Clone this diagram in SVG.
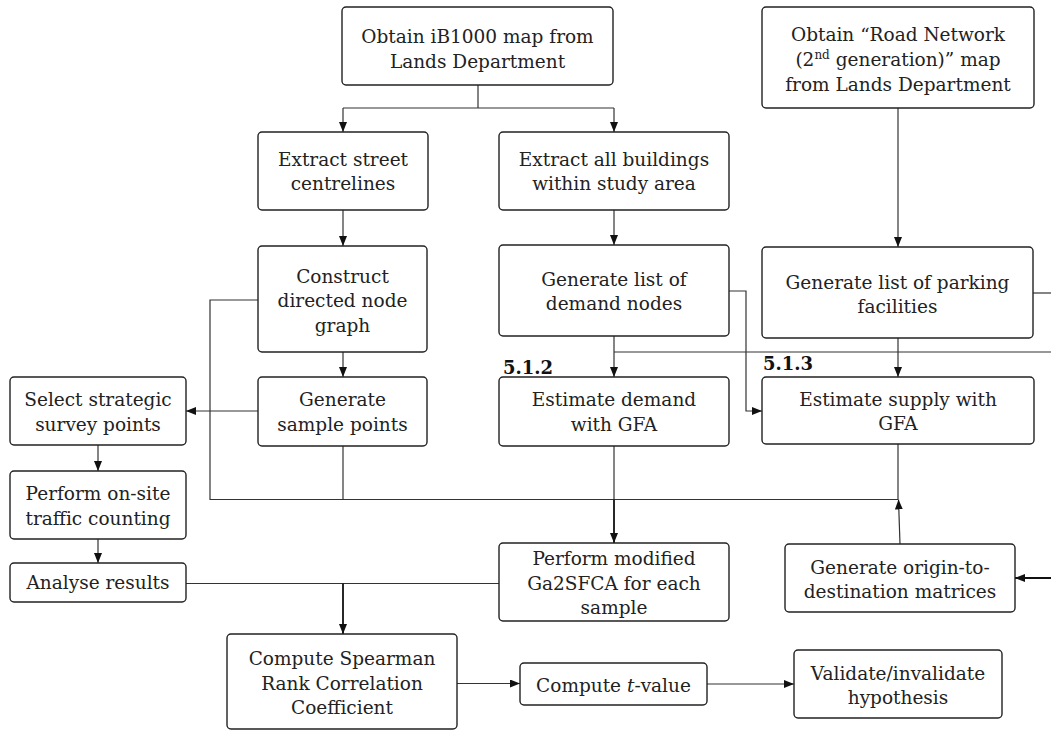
<svg xmlns="http://www.w3.org/2000/svg" width="1051" height="731" viewBox="0 0 1051 731">
<style>
.box{fill:#fff;stroke:#222;stroke-width:1.4}
.t{font-family:"DejaVu Serif",serif;font-size:18.5px;fill:#222;text-anchor:middle}
.c{fill:none;stroke:#333;stroke-width:1.2}
.k{fill:none;stroke:#111;stroke-width:1.8}
.lbl{font-family:"DejaVu Serif",serif;font-weight:bold;font-size:18px;fill:#111}
</style>
<defs>
<marker id="ah" markerUnits="userSpaceOnUse" markerWidth="10" markerHeight="8" refX="10" refY="4" orient="auto">
<path d="M0,0 L10,4 L0,8 z" fill="#111"/>
</marker>
</defs>
<rect width="1051" height="731" fill="#fff"/>
<g id="connectors">
<path class="c" d="M478,85 V108 M343,108 H614"/>
<path class="c" d="M343,108 V132" marker-end="url(#ah)"/>
<path class="c" d="M614,108 V132" marker-end="url(#ah)"/>
<path class="c" d="M343,210 V246" marker-end="url(#ah)"/>
<path class="c" d="M614,210 V245" marker-end="url(#ah)"/>
<path class="c" d="M898,108 V247" marker-end="url(#ah)"/>
<path class="c" d="M343,352 V377" marker-end="url(#ah)"/>
<path class="c" d="M258,411 H186" marker-end="url(#ah)"/>
<path class="c" d="M98,445 V471" marker-end="url(#ah)"/>
<path class="c" d="M98,539 V563" marker-end="url(#ah)"/>
<path class="c" d="M258,300 H210 V499.5 H898"/>
<path class="c" d="M343,446 V499.5"/>
<path class="c" d="M614,336 V377" marker-end="url(#ah)"/>
<path class="c" d="M614,352 H1051"/>
<path class="c" d="M729,291 H746 V411 H762" marker-end="url(#ah)"/>
<path class="c" d="M1033,293 H1051"/>
<path class="c" d="M898,338 V377" marker-end="url(#ah)"/>
<path class="c" d="M614,446 V499.5"/>
<path class="k" d="M614,499.5 V543" marker-end="url(#ah)"/>
<path class="c" d="M898,444 V499.5"/>
<path class="c" d="M900,544 L898.5,499.5" marker-end="url(#ah)"/>
<path class="k" d="M1051,578 H1015" marker-end="url(#ah)"/>
<path class="c" d="M186,583.5 H499"/>
<path class="k" d="M343,583.5 V634" marker-end="url(#ah)"/>
<path class="c" d="M457,683.5 H520" marker-end="url(#ah)"/>
<path class="c" d="M707,684 H794" marker-end="url(#ah)"/>
</g>
<g id="n_ib1000"><rect class="box" x="342" y="7" width="271" height="78" rx="4"/>
<text class="t" x="477.5" y="43">Obtain iB1000 map from</text><text class="t" x="477.5" y="67.5">Lands Department</text></g>
<g id="n_street"><rect class="box" x="258" y="132" width="170" height="78" rx="4"/>
<text class="t" x="343" y="165.5">Extract street</text><text class="t" x="343" y="190">centrelines</text></g>
<g id="n_buildings"><rect class="box" x="499" y="132" width="230" height="78" rx="4"/>
<text class="t" x="614" y="165.5">Extract all buildings</text><text class="t" x="614" y="190">within study area</text></g>
<g id="n_road"><rect class="box" x="762" y="7" width="272" height="101" rx="4"/>
<text class="t" x="898" y="41">Obtain “Road Network</text>
<text class="t" x="898" y="66">(2<tspan font-size="12" dy="-7">nd</tspan><tspan dy="7"> generation)” map</tspan></text>
<text class="t" x="898" y="90.5">from Lands Department</text></g>
<g id="n_construct"><rect class="box" x="258" y="246" width="169" height="106" rx="4"/>
<text class="t" x="342.5" y="282.5">Construct</text><text class="t" x="342.5" y="307">directed node</text><text class="t" x="342.5" y="331.5">graph</text></g>
<g id="n_demand_nodes"><rect class="box" x="499" y="245" width="230" height="91" rx="4"/>
<text class="t" x="614" y="285.5">Generate list of</text><text class="t" x="614" y="310">demand nodes</text></g>
<g id="n_parking"><rect class="box" x="762" y="247" width="271" height="91" rx="4"/>
<text class="t" x="897.5" y="289">Generate list of parking</text><text class="t" x="897.5" y="312.5">facilities</text></g>
<g id="n_select"><rect class="box" x="10" y="377" width="176" height="68" rx="4"/>
<text class="t" x="98" y="406">Select strategic</text><text class="t" x="98" y="430.5">survey points</text></g>
<g id="n_sample"><rect class="box" x="258" y="377" width="169" height="69" rx="4"/>
<text class="t" x="342.5" y="406">Generate</text><text class="t" x="342.5" y="430.5">sample points</text></g>
<g id="n_est_demand"><rect class="box" x="499" y="377" width="230" height="69" rx="4"/>
<text class="lbl" x="503" y="374">5.1.2</text>
<text class="t" x="614" y="406">Estimate demand</text><text class="t" x="614" y="430.5">with GFA</text></g>
<g id="n_est_supply"><rect class="box" x="762" y="377" width="272" height="67" rx="4"/>
<text class="lbl" x="763" y="370">5.1.3</text>
<text class="t" x="898" y="405.5">Estimate supply with</text><text class="t" x="898" y="430">GFA</text></g>
<g id="n_onsite"><rect class="box" x="10" y="471" width="176" height="68" rx="4"/>
<text class="t" x="98" y="500">Perform on-site</text><text class="t" x="98" y="524.5">traffic counting</text></g>
<g id="n_analyse"><rect class="box" x="10" y="563" width="176" height="39" rx="4"/>
<text class="t" x="98" y="589">Analyse results</text></g>
<g id="n_ga2sfca"><rect class="box" x="499" y="543" width="230" height="78" rx="4"/>
<text class="t" x="614" y="565">Perform modified</text><text class="t" x="614" y="589.5">Ga2SFCA for each</text><text class="t" x="614" y="614">sample</text></g>
<g id="n_od"><rect class="box" x="785" y="544" width="230" height="68" rx="4"/>
<text class="t" x="900" y="573.5">Generate origin-to-</text><text class="t" x="900" y="598">destination matrices</text></g>
<g id="n_spearman"><rect class="box" x="227" y="634" width="230" height="95" rx="4"/>
<text class="t" x="342" y="665">Compute Spearman</text><text class="t" x="342" y="689.5">Rank Correlation</text><text class="t" x="342" y="714">Coefficient</text></g>
<g id="n_tvalue"><rect class="box" x="520" y="663" width="187" height="42" rx="4"/>
<text class="t" x="613.5" y="691.5">Compute <tspan font-style="italic">t</tspan>-value</text></g>
<g id="n_validate"><rect class="box" x="794" y="650" width="208" height="68" rx="4"/>
<text class="t" x="898" y="679.5">Validate/invalidate</text><text class="t" x="898" y="703.5">hypothesis</text></g>
</svg>
